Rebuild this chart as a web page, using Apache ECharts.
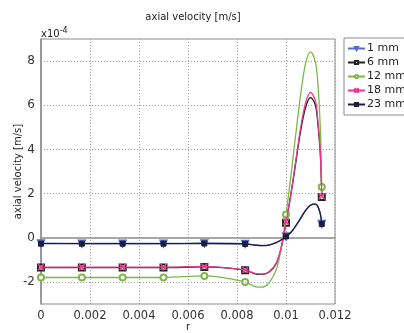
<!DOCTYPE html>
<html><head><meta charset="utf-8">
<script src="https://cdn.jsdelivr.net/npm/echarts@6/dist/echarts.min.js"></script>
<style>html,body{margin:0;padding:0;background:#fff}#c{width:404px;height:333px}</style>
</head><body><div id="c"></div>
<script>
// radial positions r (m)
const R = [0, 0.001667, 0.003333, 0.005, 0.006667, 0.008333, 0.0087, 0.009, 0.0093, 0.0096, 0.0098, 0.01, 0.0102, 0.0104, 0.0106, 0.0108, 0.011, 0.0112, 0.0113, 0.0114, 0.01146];
// positions where markers are drawn
const markerR = [0, 0.001667, 0.003333, 0.005, 0.006667, 0.008333, 0.01, 0.01146];
// axial velocity (x1e-4 m/s)
const v1mm  = [-0.25,-0.26,-0.26,-0.26,-0.25,-0.27,-0.32,-0.35,-0.33,-0.22,-0.1,0.07,0.25,0.55,0.9,1.25,1.48,1.53,1.42,1.1,0.63];
const v6mm  = [-1.35,-1.35,-1.35,-1.35,-1.32,-1.47,-1.62,-1.66,-1.56,-1.17,-0.48,0.68,1.95,3.4,4.85,5.9,6.35,6.0,5.15,3.8,1.85];
const v12mm = [-1.8,-1.8,-1.8,-1.8,-1.73,-2.0,-2.2,-2.24,-2.05,-1.45,-0.5,1.05,2.8,4.7,6.5,7.9,8.42,7.95,7.0,5.0,2.3];
const v18mm = [-1.33,-1.33,-1.33,-1.33,-1.3,-1.46,-1.6,-1.65,-1.55,-1.15,-0.45,0.72,2.0,3.5,5.0,6.1,6.58,6.2,5.3,3.9,1.88];
const v23mm = [-0.27,-0.27,-0.27,-0.27,-0.26,-0.28,-0.33,-0.36,-0.33,-0.22,-0.1,0.06,0.24,0.54,0.88,1.23,1.47,1.52,1.41,1.08,0.62];
const names = ['1 mm','6 mm','12 mm','18 mm','23 mm'];
const xTicks = [0, 0.002, 0.004, 0.006, 0.008, 0.01, 0.012];
const yTicks = [-2, 0, 2, 4, 6, 8];

const FONT = 'DejaVu Sans';
function build(vals){
  return R.map((r,i)=> markerR.includes(r) ? {value:[r, vals[i]]} : {value:[r, vals[i]], symbol:'none'});
}
const crossPath = 'path://M1,0L5,4L9,0L10,1L6,5L10,9L9,10L5,6L1,10L0,9L4,5L0,1Z';
const styles = [
  {color:'#5a6ac8', symbol:'emptyTriangle', symbolRotate:180, symbolSize:6},
  {color:'#222222', symbol:'emptyRect', symbolSize:6},
  {color:'#7cb848', symbol:'emptyCircle', symbolSize:6},
  {color:'#e8388e', symbol:crossPath, symbolSize:6},
  {color:'#1e1e3c', symbol:'rect', symbolSize:5}
];
const vals = [v1mm, v6mm, v12mm, v18mm, v23mm];
const series = names.map((n,i)=>({
  name:n, type:'line', data:build(vals[i]), smooth:0.35,
  showAllSymbol:true, symbol:styles[i].symbol, symbolSize:styles[i].symbolSize,
  symbolRotate:styles[i].symbolRotate||0,
  lineStyle:{color:styles[i].color, width:1.3},
  itemStyle:{color:styles[i].color, borderColor:styles[i].color, borderWidth:1},
  emphasis:{disabled:true}, animation:false, z:2+i
}));
series[0].markLine = {
  silent:true, symbol:'none', animation:false, label:{show:false},
  lineStyle:{color:'#a0a0a0', type:[1,2], width:1},
  data: yTicks.map(y=>({yAxis:y}))
};
const chart = echarts.init(document.getElementById('c'), null, {renderer:'canvas'});
chart.setOption({
  animation:false,
  backgroundColor:'#fff',
  title:{text:'axial velocity [m/s]', left:188, textAlign:'center', top:7,
    textStyle:{fontFamily:FONT, fontSize:10, fontWeight:'normal', color:'#222'}},
  grid:{left:41, right:69, top:39, bottom:29, show:true, borderColor:'#8c8c8c', borderWidth:1,
    containLabel:false, outerBoundsMode:'none'},
  legend:{orient:'vertical', left:344, top:38, data:names, itemWidth:17, itemHeight:4, itemGap:1,
    padding:[4,14,4,3], borderColor:'#8c8c8c', borderWidth:1, backgroundColor:'#fff',
    textStyle:{fontFamily:FONT, fontSize:11, lineHeight:13, color:'#222', padding:[0,0,0,-3]}},
  xAxis:{type:'value', min:0, max:0.012, interval:0.002, name:'r', nameLocation:'middle', nameGap:18,
    nameMoveOverlap:false,
    nameTextStyle:{fontFamily:FONT, fontSize:10, color:'#222'},
    axisLine:{lineStyle:{color:'#8c8c8c', width:1.5}}, axisTick:{show:false},
    axisLabel:{fontFamily:FONT, fontSize:11.5, color:'#333', margin:6,
      formatter:v=>{const t=xTicks.find(x=>Math.abs(x-v)<1e-9); return t===undefined?'':String(t);}},
    splitLine:{show:true, lineStyle:{color:'#a0a0a0', type:[1,2], width:1}}},
  yAxis:{type:'value', min:-3, max:9, interval:1, name:'axial velocity [m/s]', nameLocation:'middle', nameGap:18,
    nameMoveOverlap:false,
    nameTextStyle:{fontFamily:FONT, fontSize:10, color:'#222'},
    axisLine:{lineStyle:{color:'#8c8c8c', width:1.5}}, axisTick:{show:false},
    axisLabel:{fontFamily:FONT, fontSize:12, color:'#333', margin:6,
      formatter:v=>yTicks.includes(Math.round(v)) && Math.abs(v-Math.round(v))<1e-9 ? String(Math.round(v)) : ''},
    splitLine:{show:false}},
  graphic:[{type:'text', left:41, top:27, style:{text:'x10{s|-4}', font:'10px '+FONT, fill:'#222',
    rich:{s:{fontSize:8, fontFamily:FONT, verticalAlign:'top', padding:[0,0,6,0]}}}}],
  series
});
</script></body></html>
